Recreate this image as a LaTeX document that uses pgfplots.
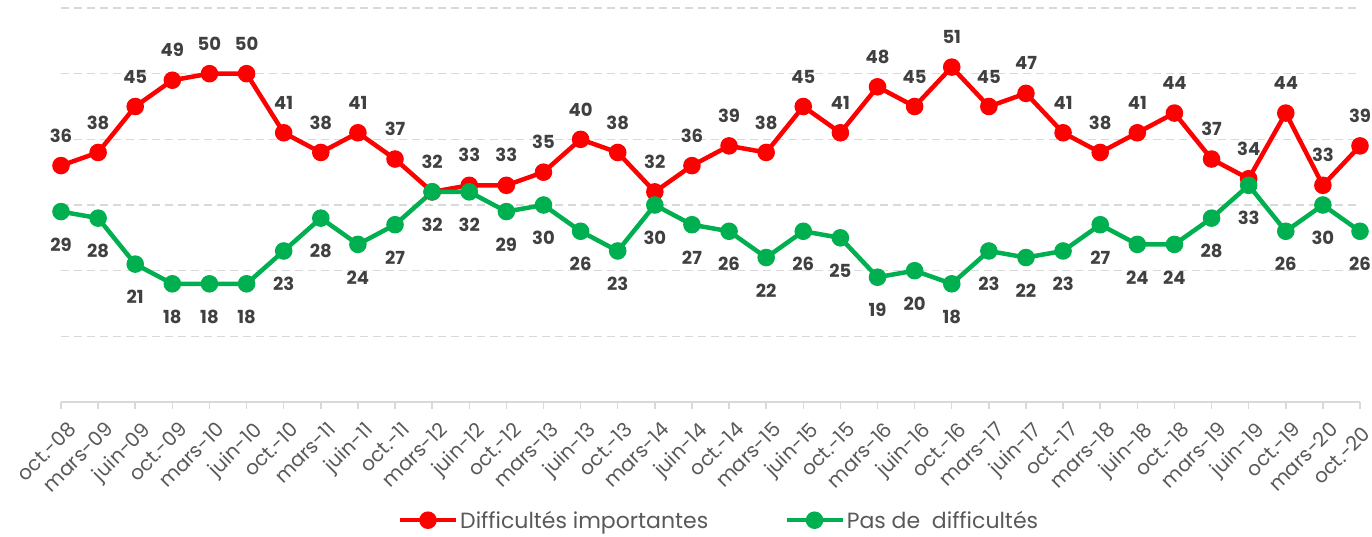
\documentclass[border=0pt]{standalone}
\usepackage{fontspec}
\setmainfont{Poppins}
\usepackage{pgfplots}
\usepackage{pgfplotstable}
\pgfplotsset{compat=1.18}
\definecolor{cred}{HTML}{FF0000}
\definecolor{cgreen}{HTML}{00B050}
\definecolor{cgrid}{HTML}{D9D9D9}
\definecolor{ctext}{HTML}{595959}
\definecolor{clabel}{HTML}{404040}

\pgfplotstableread{
x red green
0 36 29
1 38 28
2 45 21
3 49 18
4 50 18
5 50 18
6 41 23
7 38 28
8 41 24
9 37 27
10 32 32
11 33 32
12 33 29
13 35 30
14 40 26
15 38 23
16 32 30
17 36 27
18 39 26
19 38 22
20 45 26
21 41 25
22 48 19
23 45 20
24 51 18
25 45 23
26 47 22
27 41 23
28 38 27
29 41 24
30 44 24
31 37 28
32 34 33
33 44 26
34 33 30
35 39 26
}\datatable

\begin{document}
\begin{tikzpicture}[x=1pt,y=1pt]
\useasboundingbox (-61,-134) rectangle (1311,402);
\begin{axis}[
  at={(0,0)}, anchor=south west,
  scale only axis, width=1299pt, height=394pt,
  xmin=0, xmax=35, ymin=0, ymax=60,
  axis x line=bottom, axis y line=left,
  x axis line style={-, draw=cgrid, line width=1.5pt},
  y axis line style={draw=none},
  xtick=data,
  xticklabels={oct.-08,mars-09,juin-09,oct.-09,mars-10,juin-10,oct.-10,mars-11,juin-11,oct.-11,mars-12,juin-12,oct.-12,mars-13,juin-13,oct.-13,mars-14,juin-14,oct.-14,mars-15,juin-15,oct.-15,mars-16,juin-16,oct.-16,mars-17,juin-17,oct.-17,mars-18,juin-18,oct.-18,mars-19,juin-19,oct.-19,mars-20,{oct.-20\hspace*{6pt}}},
  xtick align=outside,
  major tick length=7pt,
  x tick style={draw=cgrid, line width=1.5pt},
  ytick={10,20,...,60},
  yticklabels={},
  y tick style={draw=none},
  ymajorgrids,
  grid style={draw=cgrid, line width=1.5pt, dash pattern=on 8pt off 5pt},
  xticklabel style={rotate=45, anchor=north east, inner sep=0pt, yshift=-12pt, xshift=-4pt, font=\fontsize{20}{20}\selectfont, text=ctext},
  clip=false,
  legend style={at={(0.5065,-0.300)}, anchor=center, draw=none, fill=none,
    legend columns=2, font=\fontsize{22}{22}\selectfont, text=ctext,
    /tikz/every even column/.append style={column sep=74pt},
    inner sep=0pt},
  legend image code/.code={\draw[mark repeat=2,mark phase=2,#1] plot coordinates {(0pt,0pt) (28pt,0pt) (56pt,0pt)};},
]
\addplot[cred, line width=4.5pt, mark=*, mark size=6.5pt, mark options={solid},
  nodes near coords, point meta=explicit symbolic,
  every node near coord/.append style={font=\bfseries\fontsize{18}{18}\selectfont, text=clabel, anchor=center, yshift=30pt}]
  table[x=x, y=red, meta=red] {\datatable};
\addlegendentry{Difficultés importantes}
\addplot[cgreen, line width=4.5pt, mark=*, mark size=6.5pt, mark options={solid},
  nodes near coords, point meta=explicit symbolic,
  every node near coord/.append style={font=\bfseries\fontsize{18}{18}\selectfont, text=clabel, anchor=center, yshift=-33pt}]
  table[x=x, y=green, meta=green] {\datatable};
\addlegendentry{Pas de\ \ difficultés}
\end{axis}
\end{tikzpicture}
\end{document}
